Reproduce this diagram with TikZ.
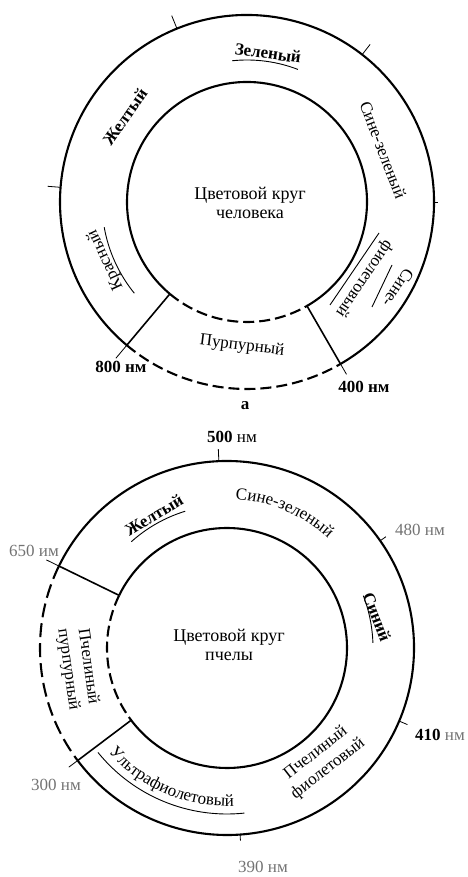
\documentclass[tikz,border=0pt]{standalone}
\usepackage{fontspec}
\setmainfont{Liberation Serif}
\usetikzlibrary{decorations.text}
\begin{document}
\begin{tikzpicture}[x=1pt,y=1pt,
  ring/.style={line width=2.1pt},
  ringdash/.style={line width=2.1pt, dash pattern=on 11pt off 5pt},
  ringdashb/.style={line width=2.1pt, dash pattern=on 14pt off 6pt},
  radial/.style={line width=1.6pt},
  tickline/.style={line width=0.8pt},
  uline/.style={line width=0.9pt},
  lbl/.style={inner sep=0pt, font=\fontsize{17}{20}\selectfont},
  blbl/.style={inner sep=0pt, font=\fontsize{17}{20}\selectfont\bfseries},
  glbl/.style={inner sep=0pt, font=\fontsize{17}{20}\selectfont, text=black!55},
  twoline/.style={align=center, inner sep=0pt, font=\fontsize{17}{20}\selectfont},
  centertext/.style={align=center, inner sep=0pt, font=\fontsize{18}{19}\selectfont}
]
\useasboundingbox (0,0) rectangle (467,877);

% ---------------- top: human colour circle ----------------
\begin{scope}[shift={(247,675)}]
  \coordinate (hc) at (0,0);
  \draw[ring] (300:187pt) arc[start angle=300, end angle=590, radius=187pt];
  \draw[ringdash] (230:187pt) arc[start angle=230, end angle=300, radius=187pt];
  \draw[ring] (300:120pt) arc[start angle=300, end angle=590, radius=120pt];
  \draw[ringdash] (230:120pt) arc[start angle=230, end angle=300, radius=120pt];
  % radial boundary lines
  \coordinate (h800i) at (230:120pt);
  \coordinate (h800o) at (230:187pt);
  \coordinate (h800e) at (230:204pt);
  \coordinate (h400i) at (300:120pt);
  \coordinate (h400o) at (300:187pt);
  \coordinate (h400e) at (300:199pt);
  \draw[radial] (h800i) -- (h800o);
  \draw[tickline] (h800o) -- (h800e);
  \draw[radial] (h400i) -- (h400o);
  \draw[tickline] (h400o) -- (h400e);
  % ticks
  \coordinate (ht1a) at (112:187pt); \coordinate (ht1b) at (112:201pt);
  \coordinate (ht2a) at (52:187pt);  \coordinate (ht2b) at (52:200pt);
  \coordinate (ht3a) at (175.5:187pt); \coordinate (ht3b) at (175.5:200pt);
  \coordinate (ht4a) at (0:187pt); \coordinate (ht4b) at (0:191pt);
  \draw[tickline] (ht1a) -- (ht1b);
  \draw[tickline] (ht2a) -- (ht2b);
  \draw[tickline] (ht3a) -- (ht3b);
  \draw[tickline] (ht4a) -- (ht4b);
  % underlines
  \draw[uline] (96:142pt) arc[start angle=96, end angle=69, radius=142pt];
  \draw[uline] (190:145pt) arc[start angle=190, end angle=219, radius=145pt];
\end{scope}
\draw[uline] (379,644) -- (330,572);
\draw[uline] (392,612) -- (372,570);

\node[blbl, rotate=-8] (zel) at (268,824) {Зеленый};
\node[blbl, rotate=55] (zhel) at (125,760) {Желтый};
\node[lbl, rotate=-69] (sz) at (383,727) {Сине-зеленый};
\node[centertext] (hcenter) at (250,674) {Цветовой круг\\человека};
\node[lbl, rotate=115] (kras) at (105.6,616.7) {Красный};
\node[lbl, rotate=-124] (fiol) at (364,598) {фиолетовый};
\node[lbl, rotate=-124] (sine) at (398,589) {Сине-};
\node[lbl, rotate=-7] (purp) at (242,531) {Пурпурный};
\node[blbl] (l800) at (121,510) {800 нм};
\node[blbl] (l400) at (364,490) {400 нм};
\node[blbl] (la) at (245,471) {а};

% ---------------- bottom: bee colour circle ----------------
\begin{scope}[shift={(227,229)}]
  \coordinate (bc) at (0,0);
  \draw[ring] (217:187pt) arc[start angle=217, end angle=514, radius=187pt];
  \draw[ringdashb] (154:187pt) arc[start angle=154, end angle=217, radius=187pt];
  \draw[ring] (217:120pt) arc[start angle=217, end angle=514, radius=120pt];
  \draw[ringdash] (154:120pt) arc[start angle=154, end angle=217, radius=120pt];
  \coordinate (b650i) at (154:120pt);
  \coordinate (b650o) at (154:187pt);
  \coordinate (b650e) at (154:201pt);
  \coordinate (b300i) at (217:120pt);
  \coordinate (b300o) at (217:187pt);
  \coordinate (b300e) at (217:198pt);
  \draw[radial] (b650i) -- (b650o);
  \draw[tickline] (b650o) -- (b650e);
  \draw[radial] (b300i) -- (b300o);
  \draw[tickline] (b300o) -- (b300e);
  \coordinate (bt500a) at (92.5:187pt); \coordinate (bt500b) at (92.5:199pt);
  \coordinate (bt480a) at (35:187pt);   \coordinate (bt480b) at (35:194pt);
  \coordinate (bt410a) at (-23:187pt);  \coordinate (bt410b) at (-23:196pt);
  \coordinate (bt390a) at (-86:187pt);  \coordinate (bt390b) at (-86:193pt);
  \draw[tickline] (bt500a) -- (bt500b);
  \draw[tickline] (bt480a) -- (bt480b);
  \draw[tickline] (bt410a) -- (bt410b);
  \draw[tickline] (bt390a) -- (bt390b);
  % underlines
  \draw[uline] (132:143pt) arc[start angle=132, end angle=107, radius=143pt];
  \draw[uline] (21:146pt) arc[start angle=21, end angle=2, radius=146pt];
  \draw[uline] (219:166pt) arc[start angle=219, end angle=276, radius=166pt];
  % curved texts
  \path[decorate, decoration={text along path, text align=center,
     text={|\fontsize{17}{20}\selectfont|Сине-зеленый}}]
     (92:149pt) arc[start angle=92, end angle=42, radius=149pt];
  \path[decorate, decoration={text along path, text align=center,
     text={|\fontsize{17}{20}\selectfont|Ультрафиолетовый}}]
     (214:158pt) arc[start angle=214, end angle=280, radius=158pt];
\end{scope}

\node[lbl] (l500) at (232,440) {{\bfseries 500} нм};
\node[blbl, rotate=31] (bzhel) at (154,362) {Желтый};
\node[glbl] (l480) at (420,347) {480 нм};
\node[glbl] (l650) at (34,326) {650 им};
\node[blbl, rotate=-69] (sin) at (377,260) {Синий};
\node[centertext] (bcenter) at (229,232) {Цветовой круг\\пчелы};
\node[twoline, rotate=-82] (bpurp) at (78,209) {Пчелиный\\пурпурный};
\node[twoline, rotate=38] (bfiol) at (322,116) {Пчелиный\\фиолетовый};
\node[lbl] (l410) at (440,142) {{\bfseries 410} \textcolor{black!55}{нм}};
\node[glbl] (l300) at (56,92) {300 нм};
\node[glbl] (l390) at (263,10) {390 нм};
\end{tikzpicture}
\end{document}
